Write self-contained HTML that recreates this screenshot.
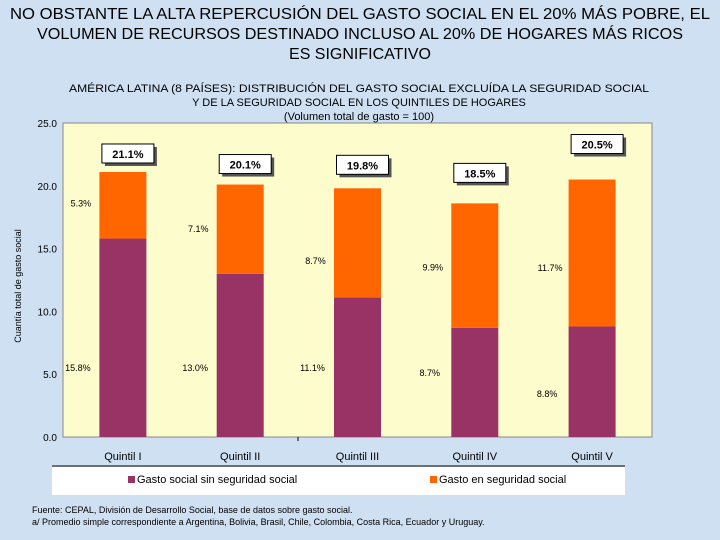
<!DOCTYPE html>
<html><head><meta charset="utf-8"><style>
body{margin:0;width:720px;height:540px;overflow:hidden;background:#cfe0f2;font-family:"Liberation Sans",sans-serif;}
svg{position:absolute;left:0;top:0}
</style></head><body>
<svg id="c" width="720" height="540" xmlns="http://www.w3.org/2000/svg">
<g font-size="16" text-anchor="middle" fill="#000">
<text x="360" y="19" textLength="700" lengthAdjust="spacingAndGlyphs">NO OBSTANTE LA ALTA REPERCUSIÓN DEL GASTO SOCIAL EN EL 20% MÁS POBRE, EL</text>
<text x="360" y="39" textLength="646" lengthAdjust="spacingAndGlyphs">VOLUMEN DE RECURSOS DESTINADO INCLUSO AL 20% DE HOGARES MÁS RICOS</text>
<text x="360" y="59">ES SIGNIFICATIVO</text>
</g>
<g font-size="11" text-anchor="middle">
<text x="359" y="92" textLength="580" lengthAdjust="spacingAndGlyphs">AMÉRICA LATINA (8 PAÍSES): DISTRIBUCIÓN DEL GASTO SOCIAL EXCLUÍDA LA SEGURIDAD SOCIAL</text>
<text x="359" y="106">Y DE LA SEGURIDAD SOCIAL EN LOS QUINTILES DE HOGARES</text>
<text x="359" y="120">(Volumen total de gasto = 100)</text>
</g>
<rect x="63" y="123" width="589" height="314" fill="#fdfccc" stroke="#888" stroke-width="1"/>
<g id="yaxis"></g><g id="bars"></g><g id="labels"></g>
<line x1="298" y1="437" x2="298" y2="441" stroke="#000"/>
<text transform="translate(21,286) rotate(-90)" font-size="9" text-anchor="middle">Cuantía total de gasto social</text>
<line x1="52" y1="466" x2="625" y2="466" stroke="#000"/>
<rect x="52" y="467" width="573" height="28" fill="#fff"/>
<rect x="128" y="476" width="7" height="7" fill="#993366"/>
<text x="137" y="483" font-size="11">Gasto social sin seguridad social</text>
<rect x="430" y="476" width="7" height="7" fill="#ff6600"/>
<text x="439" y="483" font-size="11">Gasto en seguridad social</text>
<g font-size="9">
<text x="32" y="513">Fuente: CEPAL, División de Desarrollo Social, base de datos sobre gasto social.</text>
<text x="32" y="525">a/ Promedio simple correspondiente a Argentina, Bolivia, Brasil, Chile, Colombia, Costa Rica, Ecuador y Uruguay.</text>
</g>
</svg>
<script>
const categories=["Quintil I","Quintil II","Quintil III","Quintil IV","Quintil V"];
const baseValues=[15.8,13.0,11.1,8.7,8.8];
const ssValues=[5.3,7.1,8.7,9.9,11.7];
const totalLabels=["21.1%","20.1%","19.8%","18.5%","20.5%"];
const yTicks=[0,5,10,15,20,25];
const NS="http://www.w3.org/2000/svg";
const x0=63,pw=589,y0=437,ph=314,ymax=25;
const y=v=>y0-v/ymax*ph;
const bw=pw/categories.length;
const cx=i=>x0+bw*(i+0.5)+1-i*0.5;
function mk(t,a,p){const e=document.createElementNS(NS,t);for(const k in a)e.setAttribute(k,a[k]);p.appendChild(e);return e;}
const ya=document.getElementById('yaxis'),bg=document.getElementById('bars'),lg=document.getElementById('labels');
yTicks.forEach(t=>{const e=mk('text',{x:57,y:y(t)+4,'font-size':10,'text-anchor':'end'},ya);e.textContent=t.toFixed(1);

});
const boxDy=[-28,-30,-33,-40,-45];
const ssDy=[-2,0,18,2,15];
categories.forEach((c,i)=>{
 const b=baseValues[i],s=ssValues[i],t=b+s,x=cx(i)-23.5;
 const r1=mk('rect',{x:x,y:y(b),width:47,height:y0-y(b),fill:'#993366'},bg);
 
 
 const r2=mk('rect',{x:x,y:y(t),width:47,height:y(b)-y(t),fill:'#ff6600'},bg);
 
 
 const ct=mk('text',{x:cx(i),y:460,'font-size':11,'text-anchor':'middle'},lg);ct.textContent=c;
 
 
 const by=y(t)+boxDy[i], bx=cx(i)-21;
 mk('rect',{x:bx+3,y:by+3,width:52,height:19,fill:'#555'},lg);
 const bx2=mk('rect',{x:bx,y:by,width:52,height:19,fill:'#fff',stroke:'#000'},lg);
 
 
 const tt=mk('text',{x:bx+26,y:by+14,'font-size':11,'font-weight':'bold','text-anchor':'middle'},lg);tt.textContent=totalLabels[i];
 
 
 const sl=mk('text',{x:cx(i)-42,y:(y(t)+y(b))/2+3+ssDy[i],'font-size':9,'text-anchor':'middle'},lg);sl.textContent=s.toFixed(1)+'%';
 
 
 const bl=mk('text',{x:cx(i)-45,y:i==4?397:(i==3?376:371),'font-size':9,'text-anchor':'middle'},lg);bl.textContent=b.toFixed(1)+'%';
 
 
});
</script>
</body></html>
